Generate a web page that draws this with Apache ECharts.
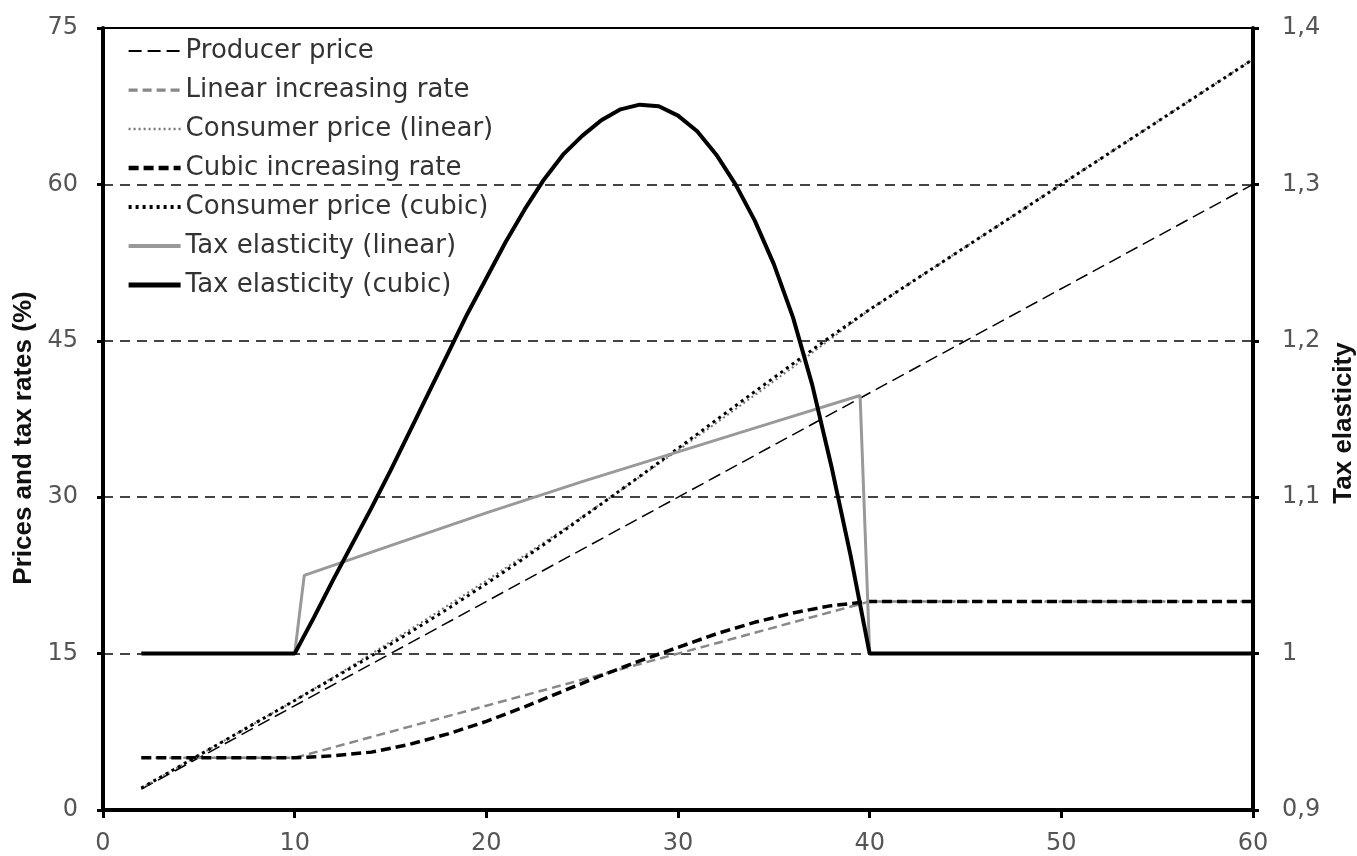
<!DOCTYPE html>
<html>
<head>
<meta charset="utf-8">
<script src="https://cdn.jsdelivr.net/npm/echarts@6/dist/echarts.min.js"></script>
<style>
html,body{margin:0;padding:0;background:#fff;}
#chart{width:1357px;height:856px;}
</style>
</head>
<body>
<div id="chart"></div>
<script>
// ---- data ----
const leftTicks = [0, 15, 30, 45, 60, 75];
const rightTicks = ['0,9', '1', '1,1', '1,2', '1,3', '1,4'];
const xTicks = [0, 10, 20, 30, 40, 50, 60];

const producerX = [2, 60];
const producerPrice = [2, 60];

const rateX = [2, 10, 12, 14, 16, 18, 20, 22, 24, 26, 28, 30, 32, 34, 36, 38, 40, 60];
const linearRate = [5, 5, 6, 7, 8, 9, 10, 11, 12, 13, 14, 15, 16, 17, 18, 19, 20, 20];
const cubicRate = [5, 5, 5.2, 5.55, 6.3, 7.3, 8.5, 9.9, 11.4, 12.9, 14.3, 15.6, 16.9, 18.0, 18.9, 19.6, 20, 20];
const consumerLinear = [2.1, 10.5, 12.72, 14.98, 17.28, 19.62, 22.0, 24.42, 26.88, 29.38, 31.92, 34.5, 37.12, 39.78, 42.48, 45.22, 48, 72];
const consumerCubic = [2.1, 10.5, 12.62, 14.78, 17.01, 19.31, 21.7, 24.18, 26.74, 29.35, 32.0, 34.68, 37.41, 40.12, 42.8, 45.45, 48, 72];

const elastLinX = [2, 10, 10.5, 15, 20, 25, 30, 35, 39.5, 40, 60];
const elastLinear = [1, 1, 1.05, 1.069, 1.090, 1.110, 1.129, 1.148, 1.165, 1, 1];

const elastCubX = [2, 10, 11, 12, 13, 14, 15, 16, 17, 18, 19, 20, 21, 22, 23, 24, 25, 26, 27, 28, 29, 30, 31, 32, 33, 34, 35, 36, 37, 38, 39, 40, 60];
const elastCubic = [1, 1, 1.023, 1.047, 1.070, 1.093, 1.117, 1.142, 1.167, 1.192, 1.217, 1.240, 1.263, 1.284, 1.303, 1.319, 1.331, 1.341, 1.348, 1.351, 1.350, 1.344, 1.334, 1.319, 1.300, 1.277, 1.249, 1.215, 1.172, 1.120, 1.063, 1, 1];

const names = ['Producer price', 'Linear increasing rate', 'Consumer price (linear)', 'Cubic increasing rate',
  'Consumer price (cubic)', 'Tax elasticity (linear)', 'Tax elasticity (cubic)'];

const pairs = (xs, ys) => xs.map((x, i) => [x, ys[i]]);

const chart = echarts.init(document.getElementById('chart'));
const font = 'DejaVu Sans, Verdana, sans-serif';
const titleFont = 'Liberation Sans, Arial, sans-serif';

const styles = [
  { color: '#000', width: 1.5, type: [13, 6] },
  { color: '#888', width: 2.5, type: [9, 5] },
  { color: '#777', width: 2, type: [2, 3] },
  { color: '#000', width: 3.5, type: [10, 5] },
  { color: '#000', width: 3, type: [3, 4] },
  { color: '#999', width: 3, type: 'solid' },
  { color: '#000', width: 4, type: 'solid' }
];

function line(i, xs, ys, yIdx) {
  const s = styles[i];
  return {
    name: names[i], type: 'line', xAxisIndex: 0, yAxisIndex: yIdx || 0,
    data: pairs(xs, ys), symbol: 'none', showSymbol: false, animation: false,
    lineStyle: { color: s.color, width: s.width, type: s.type, cap: 'butt' },
    itemStyle: { color: s.color }
  };
}

chart.setOption({
  animation: false,
  backgroundColor: '#fff',
  grid: { left: 103, right: 104, top: 28, bottom: 46, containLabel: false, outerBoundsMode: 'none' },
  legend: {
    orient: 'vertical', left: 126, top: 38, padding: 0,
    itemWidth: 52, itemHeight: 14, itemGap: 13,
    itemStyle: { opacity: 0 },
    textStyle: { fontFamily: font, fontSize: 26, color: '#333', lineHeight: 26 },
    data: names.map((n, i) => ({
      name: n,
      lineStyle: { color: styles[i].color, width: Math.min(styles[i].width * 1.3, 6), type: styles[i].type }
    }))
  },
  xAxis: [{
    type: 'value', min: 0, max: 60, interval: 10, position: 'bottom',
    axisLine: { show: true, onZero: false, lineStyle: { color: '#000', width: 4 } },
    axisTick: { show: true, length: 8, lineStyle: { color: '#000', width: 3 } },
    axisLabel: { fontFamily: font, fontSize: 24, color: '#555', margin: 22,
      formatter: v => xTicks.includes(v) ? String(v) : '' },
    splitLine: { show: false }
  }, {
    type: 'value', min: 0, max: 60, position: 'top',
    axisLine: { show: true, onZero: false, lineStyle: { color: '#000', width: 2 } },
    axisTick: { show: false }, axisLabel: { show: false }, splitLine: { show: false }
  }],
  yAxis: [{
    type: 'value', min: 0, max: 75, interval: 15, position: 'left',
    name: 'Prices and tax rates (%)', nameLocation: 'middle', nameGap: 51, nameRotate: 90,
    nameTextStyle: { fontFamily: titleFont, fontSize: 26, fontWeight: 'bold', color: '#111', padding: [0, 38, 0, 0] },
    axisLine: { show: true, onZero: false, lineStyle: { color: '#000', width: 4 } },
    axisTick: { show: true, length: 6, lineStyle: { color: '#000', width: 3 } },
    axisLabel: { fontFamily: font, fontSize: 24, color: '#555', margin: 25,
      formatter: v => { const i = leftTicks.indexOf(v); return i >= 0 ? String(leftTicks[i]) : ''; } },
    splitLine: { show: true, lineStyle: { color: '#444', width: 2, type: [10, 7] } }
  }, {
    type: 'value', min: 0.9, max: 1.4, interval: 0.1, position: 'right',
    name: 'Tax elasticity', nameLocation: 'middle', nameGap: 65, nameRotate: 90,
    nameTextStyle: { fontFamily: titleFont, fontSize: 26, fontWeight: 'bold', color: '#111', padding: [0, 8, 0, 0] },
    axisLine: { show: true, onZero: false, lineStyle: { color: '#000', width: 4 } },
    axisTick: { show: true, length: 6, lineStyle: { color: '#000', width: 3 } },
    axisLabel: { fontFamily: font, fontSize: 24, color: '#555', margin: 29,
      formatter: v => { const i = Math.round((v - 0.9) * 10); return rightTicks[i] || ''; } },
    splitLine: { show: false }
  }],
  series: [
    line(0, producerX, producerPrice),
    line(1, rateX, linearRate),
    line(2, rateX, consumerLinear),
    line(3, rateX, cubicRate),
    line(4, rateX, consumerCubic),
    line(5, elastLinX, elastLinear, 1),
    line(6, elastCubX, elastCubic, 1)
  ]
});
</script>
</body>
</html>
